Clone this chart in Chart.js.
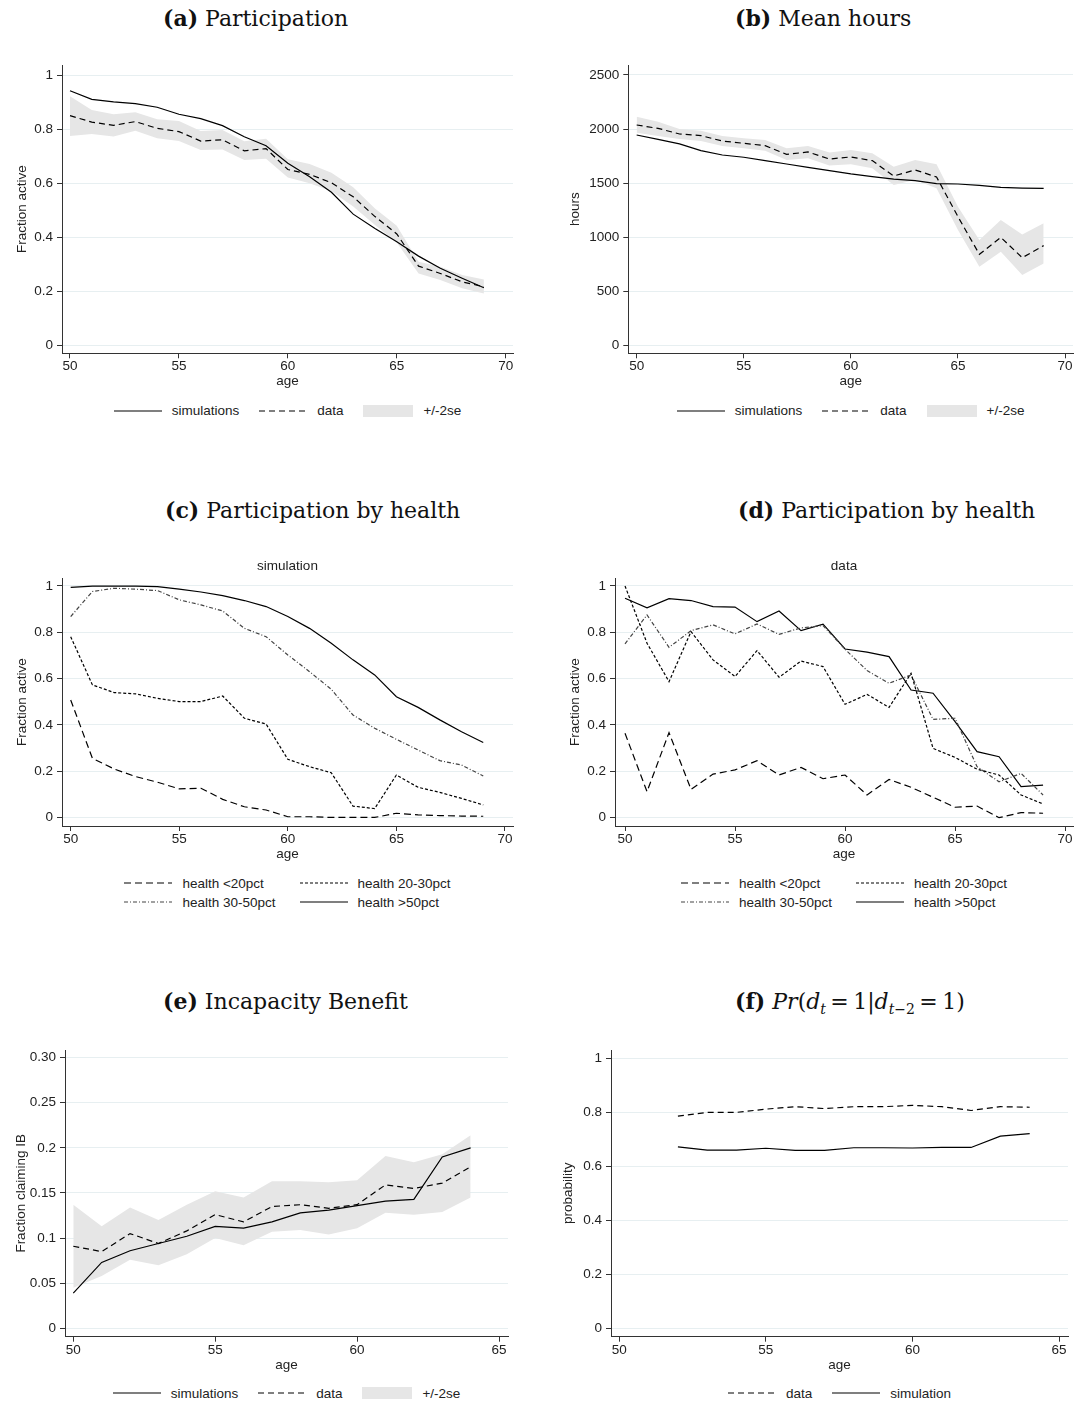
<!DOCTYPE html>
<html>
<head>
<meta charset="utf-8">
<title>Participation, hours and incapacity benefit by age</title>
<script src="https://cdn.jsdelivr.net/npm/chart.js@4"></script>
<style>
  body { margin: 0; background: #fff; }
  #page { position: relative; width: 1079px; height: 1404px; overflow: hidden;
          font-family: "Liberation Sans", Arial, sans-serif; color: #222; }
  canvas { position: absolute; }
  .cap { position: absolute; font-family: "DejaVu Serif", serif; font-size: 22px;
         line-height: 24px; white-space: nowrap; color: #111; }
  .cap b { font-weight: bold; }
  .cap sub { font-size: 14px; }
  .legend { position: absolute; display: flex; justify-content: center; column-gap: 20px;
            font-size: 13.5px; line-height: 15px; }
  .legend.grid { display: grid; grid-template-columns: auto auto; column-gap: 24px; row-gap: 4px;
                 justify-content: center; }
  .item { display: flex; align-items: center; column-gap: 10px; white-space: nowrap; }
  .item svg { display: block; }
</style>
</head>
<body>
<div id="page">
  <div class="cap" style="left:163px;top:6px"><b>(a)</b> Participation</div>
  <div class="cap" style="left:735px;top:6px"><b>(b)</b> Mean hours</div>
  <div class="cap" style="left:165px;top:498px"><b>(c)</b> Participation by health</div>
  <div class="cap" style="left:738px;top:498px"><b>(d)</b> Participation by health</div>
  <div class="cap" style="left:163px;top:989px"><b>(e)</b> Incapacity Benefit</div>
  <div class="cap" style="left:735px;top:989px"><b>(f)</b> <i>Pr</i>(<i>d</i><sub><i>t</i></sub>&#8201;=&#8201;1|<i>d</i><sub><i>t</i>−2</sub>&#8201;=&#8201;1)</div>

  <canvas id="cA"></canvas>
  <canvas id="cB"></canvas>
  <canvas id="cC"></canvas>
  <canvas id="cD"></canvas>
  <canvas id="cE"></canvas>
  <canvas id="cF"></canvas>

  <div class="legend" id="lA"></div>
  <div class="legend" id="lB"></div>
  <div class="legend grid" id="lC"></div>
  <div class="legend grid" id="lD"></div>
  <div class="legend" id="lE"></div>
  <div class="legend" id="lF"></div>
</div>

<script>
"use strict";

// ages on the x axis
const AGES = [50, 51, 52, 53, 54, 55, 56, 57, 58, 59, 60, 61, 62, 63, 64, 65, 66, 67, 68, 69];
const AGES_IB = [50, 51, 52, 53, 54, 55, 56, 57, 58, 59, 60, 61, 62, 63, 64];
const AGES_PR = [52, 53, 54, 55, 56, 57, 58, 59, 60, 61, 62, 63, 64];

// (a) participation
const PART_SIM = [0.942, 0.910, 0.901, 0.894, 0.881, 0.855, 0.839, 0.813, 0.772, 0.739,
  0.674, 0.624, 0.567, 0.486, 0.433, 0.384, 0.331, 0.286, 0.249, 0.214];
const PART_DATA = [0.850, 0.826, 0.814, 0.828, 0.803, 0.791, 0.756, 0.761, 0.720, 0.728,
  0.651, 0.633, 0.602, 0.550, 0.477, 0.413, 0.294, 0.267, 0.236, 0.218];
const PART_HI = [0.922, 0.871, 0.855, 0.862, 0.837, 0.830, 0.793, 0.797, 0.755, 0.765,
  0.689, 0.671, 0.639, 0.585, 0.507, 0.443, 0.310, 0.292, 0.261, 0.245];
const PART_LO = [0.775, 0.782, 0.773, 0.794, 0.766, 0.756, 0.723, 0.725, 0.686, 0.691,
  0.621, 0.600, 0.571, 0.514, 0.446, 0.381, 0.267, 0.243, 0.212, 0.193];

// (b) mean hours
const HOURS_SIM = [1946, 1906, 1863, 1801, 1761, 1740, 1709, 1678, 1647, 1616,
  1586, 1561, 1539, 1524, 1496, 1493, 1481, 1462, 1456, 1453];
const HOURS_DATA = [2038, 2007, 1955, 1940, 1890, 1869, 1847, 1767, 1789, 1724,
  1743, 1709, 1567, 1623, 1558, 1191, 844, 1000, 813, 924];
const HOURS_HI = [2115, 2069, 2001, 1986, 1937, 1915, 1899, 1823, 1844, 1783,
  1807, 1777, 1653, 1715, 1675, 1284, 976, 1161, 1028, 1130];
const HOURS_LO = [1967, 1937, 1909, 1890, 1844, 1823, 1801, 1715, 1730, 1663,
  1675, 1638, 1484, 1530, 1453, 1068, 730, 868, 653, 760];

// (c) participation by health, simulation
const SIM_LT20 = [0.508, 0.256, 0.210, 0.177, 0.153, 0.124, 0.127, 0.079, 0.047, 0.033,
  0.004, 0.004, 0.001, 0.001, 0.001, 0.019, 0.012, 0.009, 0.007, 0.006];
const SIM_20_30 = [0.781, 0.573, 0.540, 0.534, 0.515, 0.501, 0.501, 0.525, 0.429, 0.404,
  0.252, 0.220, 0.194, 0.050, 0.039, 0.184, 0.131, 0.109, 0.083, 0.055];
const SIM_30_50 = [0.868, 0.976, 0.990, 0.986, 0.980, 0.940, 0.918, 0.892, 0.817, 0.781,
  0.702, 0.630, 0.554, 0.443, 0.386, 0.338, 0.292, 0.246, 0.227, 0.180];
const SIM_GT50 = [0.994, 0.999, 0.999, 0.999, 0.997, 0.986, 0.974, 0.958, 0.937, 0.911,
  0.868, 0.817, 0.753, 0.681, 0.616, 0.522, 0.476, 0.422, 0.371, 0.324];

// (d) participation by health, data
const DATA_LT20 = [0.364, 0.112, 0.367, 0.122, 0.188, 0.206, 0.246, 0.184, 0.217, 0.168,
  0.184, 0.098, 0.165, 0.131, 0.088, 0.045, 0.050, 0.000, 0.022, 0.019];
const DATA_20_30 = [1.000, 0.753, 0.587, 0.803, 0.681, 0.609, 0.721, 0.606, 0.676, 0.652,
  0.489, 0.532, 0.476, 0.623, 0.299, 0.260, 0.209, 0.184, 0.098, 0.059];
const DATA_30_50 = [0.750, 0.875, 0.735, 0.807, 0.832, 0.793, 0.836, 0.791, 0.819, 0.829,
  0.727, 0.635, 0.580, 0.616, 0.424, 0.429, 0.220, 0.155, 0.191, 0.098];
const DATA_GT50 = [0.947, 0.906, 0.945, 0.937, 0.911, 0.909, 0.846, 0.892, 0.807, 0.835,
  0.728, 0.714, 0.695, 0.551, 0.537, 0.414, 0.285, 0.263, 0.134, 0.140];

// (e) incapacity benefit
const IB_SIM = [0.039, 0.073, 0.086, 0.094, 0.102, 0.113, 0.111, 0.118, 0.128, 0.131,
  0.136, 0.141, 0.143, 0.190, 0.200];
const IB_DATA = [0.091, 0.085, 0.105, 0.094, 0.108, 0.126, 0.118, 0.135, 0.137, 0.133,
  0.137, 0.159, 0.155, 0.161, 0.179];
const IB_HI = [0.137, 0.113, 0.134, 0.120, 0.137, 0.152, 0.145, 0.163, 0.163, 0.162,
  0.164, 0.191, 0.184, 0.193, 0.214];
const IB_LO = [0.045, 0.058, 0.076, 0.070, 0.082, 0.100, 0.092, 0.107, 0.109, 0.104,
  0.111, 0.128, 0.126, 0.129, 0.145];

// (f) Pr(d_t = 1 | d_t-2 = 1)
const PR_DATA = [0.786, 0.800, 0.800, 0.812, 0.821, 0.814, 0.821, 0.821, 0.826, 0.821, 0.807, 0.821, 0.819];
const PR_SIM = [0.672, 0.660, 0.660, 0.667, 0.659, 0.659, 0.669, 0.669, 0.668, 0.670, 0.670, 0.712, 0.721];

// ticks
const X_TICKS_70 = [50, 55, 60, 65, 70];
const X_TICKS_65 = [50, 55, 60, 65];
const Y_TICKS_FRAC = [0, 0.2, 0.4, 0.6, 0.8, 1];
const Y_LABELS_FRAC = ["0", "0.2", "0.4", "0.6", "0.8", "1"];
const Y_TICKS_HOURS = [0, 500, 1000, 1500, 2000, 2500];
const Y_LABELS_HOURS = ["0", "500", "1000", "1500", "2000", "2500"];
const Y_TICKS_IB = [0, 0.05, 0.1, 0.15, 0.2, 0.25, 0.3];
const Y_LABELS_IB = ["0", "0.05", "0.1", "0.15", "0.2", "0.25", "0.30"];

const BAND_COLOR = "#e6e6e6";
const GRID_COLOR = "#e7eff1";
const AXIS_COLOR = "#333";
const DASH = [6, 4];
const DASH_LONG = [7, 4];
const DASH_SHORT = [3, 2];
const DASH_DOT = [4, 2, 1, 2];

const FONT_SIZE = 13.5;
const HALF_LINE = FONT_SIZE * 1.2 / 2;

Chart.defaults.font.family = '"Liberation Sans", Arial, sans-serif';
Chart.defaults.font.size = FONT_SIZE;
Chart.defaults.color = "#222";

function pts(xs, ys) {
  return xs.map((x, i) => ({ x: x, y: ys[i] }));
}

function line(label, xs, ys, dash, color) {
  return {
    label: label,
    data: pts(xs, ys),
    borderColor: color || "#000",
    borderWidth: 1.2,
    borderDash: dash,
    pointRadius: 0,
    fill: false,
    tension: 0
  };
}

// upper edge fills down to the lower edge
function band(xs, hi, lo) {
  return [
    { label: "+/-2se", data: pts(xs, hi), borderWidth: 0, pointRadius: 0,
      backgroundColor: BAND_COLOR, fill: "+1" },
    { label: "lo", data: pts(xs, lo), borderWidth: 0, pointRadius: 0, fill: false }
  ];
}

// box: canvas rect on the page, area: wanted plot area on the page
function makeChart(id, p) {
  const box = p.box, area = p.area;
  const cv = document.getElementById(id);
  cv.width = box.w;
  cv.height = box.h;
  cv.style.left = box.x + "px";
  cv.style.top = box.y + "px";

  const yWidth = area.l - box.x;
  const xHeight = box.y + box.h - area.b;
  let topPad = area.t - box.y;
  let subtitle = { display: false };
  if (p.subtitle) {
    const pt = p.subY - HALF_LINE - box.y;
    subtitle = {
      display: true, text: p.subtitle, fullSize: false, color: "#222",
      font: { size: FONT_SIZE, weight: "normal", lineHeight: 1.2 },
      padding: { top: pt, bottom: topPad - 2 * HALF_LINE - pt }
    };
    topPad = 0;
  }

  return new Chart(cv, {
    type: "line",
    data: { datasets: p.datasets },
    options: {
      responsive: false,
      animation: false,
      devicePixelRatio: 1,
      layout: { padding: { top: topPad, right: box.x + box.w - area.r, bottom: 0, left: 0 } },
      plugins: {
        legend: { display: false },
        tooltip: { enabled: false },
        title: subtitle
      },
      scales: {
        x: {
          type: "linear",
          min: p.xRange[0],
          max: p.xRange[1],
          afterBuildTicks: s => { s.ticks = p.xTicks.map(v => ({ value: v })); },
          afterFit: s => { s.height = xHeight; },
          ticks: { autoSkip: false, maxRotation: 0, padding: 13.4 - 5 - HALF_LINE, color: "#222",
                   callback: v => String(v) },
          grid: { drawOnChartArea: false, drawTicks: true, tickLength: 5, tickColor: AXIS_COLOR },
          border: { display: true, color: AXIS_COLOR, width: 1 },
          title: { display: true, text: "age", color: "#222", font: { size: FONT_SIZE, lineHeight: 1.2 },
                   padding: { top: 0, bottom: xHeight - 28.4 - HALF_LINE } }
        },
        y: {
          type: "linear",
          min: p.yRange[0],
          max: p.yRange[1],
          afterBuildTicks: s => { s.ticks = p.yTicks.map(v => ({ value: v })); },
          afterFit: s => { s.width = yWidth; },
          ticks: { autoSkip: false, padding: 4, color: "#222",
                   callback: (v, i) => p.yLabels[i] },
          grid: { color: GRID_COLOR, lineWidth: 1, drawTicks: true, tickLength: 5, tickColor: AXIS_COLOR },
          border: { display: true, color: AXIS_COLOR, width: 1 },
          title: { display: true, text: p.yTitle, color: "#222", font: { size: FONT_SIZE, lineHeight: 1.2 },
                   padding: { top: p.yTitleX - box.x - HALF_LINE, bottom: 0 } }
        }
      }
    }
  });
}

function legend(id, rect, items) {
  const el = document.getElementById(id);
  el.style.left = rect.x + "px";
  el.style.top = rect.y + "px";
  el.style.width = rect.w + "px";
  el.innerHTML = items.map(it => {
    let key;
    if (it.band) {
      key = '<svg width="50" height="12"><rect x="0" y="0" width="50" height="12" fill="' + BAND_COLOR + '"/></svg>';
    } else {
      const dash = it.dash.length ? ' stroke-dasharray="' + it.dash.join(" ") + '"' : "";
      key = '<svg width="48" height="12"><line x1="0" y1="6" x2="48" y2="6" stroke="' +
        (it.color || "#000") + '" stroke-width="1.2"' + dash + "/></svg>";
    }
    return '<span class="item">' + key + "<span>" + it.label + "</span></span>";
  }).join("");
}

const SIM_DATA_KEYS = [
  { label: "simulations", dash: [] },
  { label: "data", dash: DASH },
  { label: "+/-2se", band: true }
];
const HEALTH_KEYS = [
  { label: "health &lt;20pct", dash: DASH_LONG },
  { label: "health 20-30pct", dash: DASH_SHORT },
  { label: "health 30-50pct", dash: DASH_DOT, color: "#444" },
  { label: "health &gt;50pct", dash: [] }
];

function healthSets(a, b, c, d) {
  return [
    line("health <20pct", AGES, a, DASH_LONG),
    line("health 20-30pct", AGES, b, DASH_SHORT),
    line("health 30-50pct", AGES, c, DASH_DOT, "#444"),
    line("health >50pct", AGES, d, [])
  ];
}

window.onload = function() {
  // (a)
  makeChart("cA", {
    box: { x: 0, y: 40, w: 530, h: 352 },
    area: { l: 62, r: 513, t: 65, b: 353.3 },
    xRange: [49.633, 70.335], xTicks: X_TICKS_70,
    yRange: [-0.028, 1.037], yTicks: Y_TICKS_FRAC, yLabels: Y_LABELS_FRAC,
    yTitle: "Fraction active", yTitleX: 22,
    datasets: [line("simulations", AGES, PART_SIM, []), line("data", AGES, PART_DATA, DASH)]
      .concat(band(AGES, PART_HI, PART_LO))
  });
  legend("lA", { x: 62, y: 403, w: 451 }, SIM_DATA_KEYS);

  // (b)
  makeChart("cB", {
    box: { x: 545, y: 40, w: 534, h: 352 },
    area: { l: 628.3, r: 1073, t: 65, b: 353.3 },
    xRange: [49.61, 70.37], xTicks: X_TICKS_70,
    yRange: [-70, 2592], yTicks: Y_TICKS_HOURS, yLabels: Y_LABELS_HOURS,
    yTitle: "hours", yTitleX: 575,
    datasets: [line("simulations", AGES, HOURS_SIM, []), line("data", AGES, HOURS_DATA, DASH)]
      .concat(band(AGES, HOURS_HI, HOURS_LO))
  });
  legend("lB", { x: 628.3, y: 403, w: 444.7 }, SIM_DATA_KEYS);

  // (c)
  makeChart("cC", {
    box: { x: 0, y: 545, w: 530, h: 320 },
    area: { l: 62, r: 513, t: 578.3, b: 826 },
    subtitle: "simulation", subY: 566,
    xRange: [49.60, 70.37], xTicks: X_TICKS_70,
    yRange: [-0.036, 1.033], yTicks: Y_TICKS_FRAC, yLabels: Y_LABELS_FRAC,
    yTitle: "Fraction active", yTitleX: 22,
    datasets: healthSets(SIM_LT20, SIM_20_30, SIM_30_50, SIM_GT50)
  });
  legend("lC", { x: 62, y: 875.5, w: 451 }, HEALTH_KEYS);

  // (d)
  makeChart("cD", {
    box: { x: 545, y: 545, w: 534, h: 320 },
    area: { l: 615, r: 1073, t: 578.3, b: 826 },
    subtitle: "data", subY: 566,
    xRange: [49.545, 70.36], xTicks: X_TICKS_70,
    yRange: [-0.036, 1.033], yTicks: Y_TICKS_FRAC, yLabels: Y_LABELS_FRAC,
    yTitle: "Fraction active", yTitleX: 575,
    datasets: healthSets(DATA_LT20, DATA_20_30, DATA_30_50, DATA_GT50)
  });
  legend("lD", { x: 615, y: 875.5, w: 458 }, HEALTH_KEYS);

  // (e)
  makeChart("cE", {
    box: { x: 0, y: 1036, w: 530, h: 339 },
    area: { l: 65, r: 508, t: 1050, b: 1336.7 },
    xRange: [49.708, 65.317], xTicks: X_TICKS_65,
    yRange: [-0.0093, 0.3085], yTicks: Y_TICKS_IB, yLabels: Y_LABELS_IB,
    yTitle: "Fraction claiming IB", yTitleX: 21.7,
    datasets: [line("simulations", AGES_IB, IB_SIM, []), line("data", AGES_IB, IB_DATA, DASH)]
      .concat(band(AGES_IB, IB_HI, IB_LO))
  });
  legend("lE", { x: 65, y: 1385.5, w: 443 }, SIM_DATA_KEYS);

  // (f)
  makeChart("cF", {
    box: { x: 545, y: 1036, w: 534, h: 339 },
    area: { l: 611, r: 1068, t: 1050, b: 1336.7 },
    xRange: [49.717, 65.307], xTicks: X_TICKS_65,
    yRange: [-0.031, 1.031], yTicks: Y_TICKS_FRAC, yLabels: Y_LABELS_FRAC,
    yTitle: "probability", yTitleX: 568,
    datasets: [line("data", AGES_PR, PR_DATA, DASH), line("simulation", AGES_PR, PR_SIM, [])]
  });
  legend("lF", { x: 611, y: 1385.5, w: 457 }, [
    { label: "data", dash: DASH },
    { label: "simulation", dash: [] }
  ]);
};
</script>
</body>
</html>
